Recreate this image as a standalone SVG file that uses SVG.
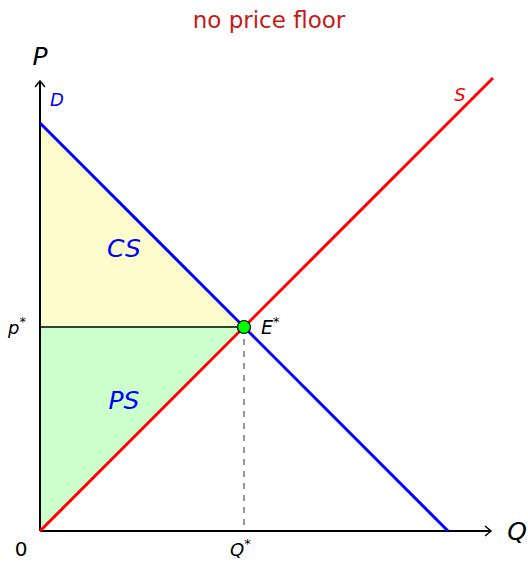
<svg xmlns="http://www.w3.org/2000/svg" width="528" height="561" viewBox="0 0 528 561">
<style>
text{font-family:"DejaVu Sans","Liberation Sans",sans-serif;}
.it{font-style:italic;}
.ax{stroke:#000;stroke-width:2;fill:none;}
</style>
<defs>
<marker id="arr" markerWidth="12" markerHeight="12" refX="9" refY="6" orient="auto" markerUnits="userSpaceOnUse">
<path d="M3,1 L9,6 L3,11" fill="none" stroke="#000" stroke-width="1.5"/>
</marker>
</defs>
<rect width="528" height="561" fill="#fff"/>
<g id="title"><text x="269" y="28" text-anchor="middle" font-size="23" fill="#c41a1a">no price floor</text></g>
<g id="areas">
<polygon id="CS" points="40,123 244,327 40,327" fill="#fcfccc"/>
<polygon id="PS" points="40,327 244,327 40,531" fill="#ccffcc"/>
</g>
<g id="connectors">
<line x1="40" y1="531" x2="40" y2="81" class="ax" marker-end="url(#arr)"/>
<line x1="40" y1="531" x2="491" y2="531" class="ax" marker-end="url(#arr)"/>
<line x1="40" y1="327" x2="244" y2="327" stroke="#000" stroke-width="1.5"/>
<line x1="244" y1="327" x2="244" y2="531" stroke="#555" stroke-width="1.2" stroke-dasharray="6,6"/>
<line id="D" x1="40" y1="123" x2="448" y2="531" stroke="#0000ff" stroke-width="3"/>
<line id="S" x1="40" y1="531" x2="493" y2="78" stroke="#ff0000" stroke-width="3"/>
</g>
<g id="E"><circle cx="244" cy="327" r="6.5" fill="#00ff00" stroke="#000" stroke-width="1.2"/></g>
<g id="labels">
<text x="40" y="65" class="it" font-size="25" text-anchor="middle">P</text>
<text x="517" y="540" class="it" font-size="25" text-anchor="middle">Q</text>
<text x="57" y="106" class="it" font-size="18" fill="#0000ff" text-anchor="middle">D</text>
<text x="460" y="101" class="it" font-size="18" fill="#ff0000" text-anchor="middle">S</text>
<text x="124" y="257" class="it" font-size="25" fill="#0000ff" text-anchor="middle">CS</text>
<text x="124" y="409" class="it" font-size="25" fill="#0000ff" text-anchor="middle">PS</text>
<text x="8" y="334" class="it" font-size="18">p<tspan font-size="13" dy="-8" font-style="normal">*</tspan></text>
<text x="261" y="334" class="it" font-size="19">E<tspan font-size="13" dy="-8" font-style="normal">*</tspan></text>
<text x="230" y="556" class="it" font-size="18">Q<tspan font-size="13" dy="-8" font-style="normal">*</tspan></text>
<text x="21" y="556" font-size="20" text-anchor="middle">0</text>
</g>
</svg>
